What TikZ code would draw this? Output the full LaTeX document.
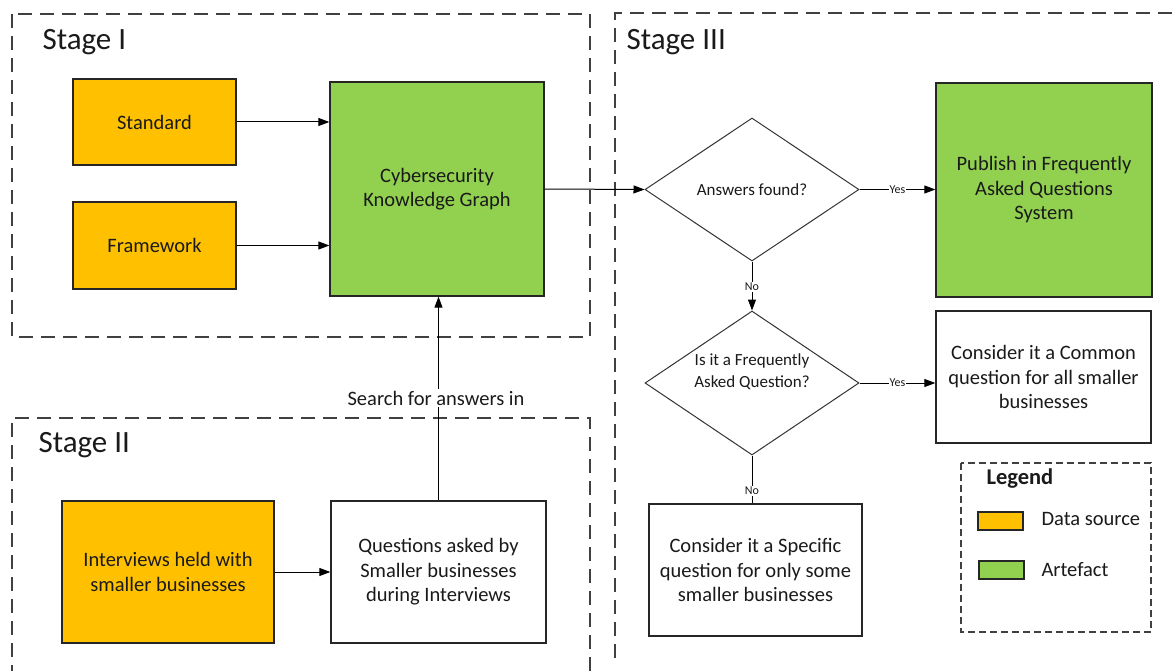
\documentclass[tikz,border=0pt]{standalone}
\usepackage{fontspec}
\setmainfont{Carlito}
\usetikzlibrary{arrows.meta,shapes.geometric}
\definecolor{dsrc}{HTML}{FFC000}
\definecolor{artf}{HTML}{92D050}
\definecolor{txt}{HTML}{1A1A1A}
\definecolor{dashc}{HTML}{404040}
\begin{document}
\begin{tikzpicture}[x=1pt,y=-1pt,
  box/.style={draw=black!85, line width=1.3pt, inner sep=0pt, align=center,
    font=\fontsize{20.5}{24.5}\selectfont, text=txt},
  dec/.style={draw=black!80, line width=1pt, shape=diamond, inner sep=0pt, align=center,
    font=\fontsize{17}{22}\selectfont, text=txt},
  stagebox/.style={draw=dashc, line width=1.2pt, dash pattern=on 14pt off 8pt},
  stagelbl/.style={anchor=west, font=\fontsize{31}{34}\selectfont, text=txt},
  conn/.style={draw=black, line width=1pt, -{Triangle[length=11pt,width=8pt]}},
  plain/.style={draw=black, line width=1pt},
  small/.style={fill=white, inner sep=1pt, font=\fontsize{12}{14}\selectfont, text=txt},
  legtxt/.style={anchor=west, font=\fontsize{20.5}{24}\selectfont, text=txt}
]
\useasboundingbox (0,0) rectangle (1172,671);
\fill[white] (0,0) rectangle (1172,671);

% stage frames
\draw[stagebox] (12,14) rectangle (590,337);
\draw[stagebox] (590,671) -- (590,418) -- (12,418) -- (12,671);
\draw[stagebox] (1172,13) -- (615,13) -- (615,662);

\node[stagelbl] (s1) at (39,42) {Stage I};
\node[stagelbl] (s2) at (35,445) {Stage II};
\node[stagelbl] (s3) at (623,42) {Stage III};

% Stage I
\node[box, fill=dsrc, minimum width=163pt, minimum height=86pt] (std) at (154.5,122) {Standard};
\node[box, fill=dsrc, minimum width=163pt, minimum height=87pt] (fw) at (154.5,245.5) {Framework};
\node[box, fill=artf, minimum width=214pt, minimum height=214pt] (ckg) at (437,189) {Cybersecurity\\Knowledge Graph};

\draw[conn] (std.east) -- (std.east -| ckg.west);
\draw[conn] (fw.east) -- (fw.east -| ckg.west);

% Stage II
\node[box, fill=dsrc, minimum width=212pt, minimum height=142pt] (intv) at (168,572) {Interviews held with\\smaller businesses};
\node[box, fill=white, minimum width=215pt, minimum height=142pt] (ques) at (438.5,572) {Questions asked by\\Smaller businesses\\during Interviews};
\draw[conn] (intv.east) -- (ques.west);
\draw[conn] (ques.north) -- (ques.north |- ckg.south);
\node[fill=white, inner sep=2pt, font=\fontsize{20.5}{24}\selectfont, text=txt] (search) at (436,398) {Search for answers in};

% Stage III
\node[dec, minimum width=214pt, minimum height=143pt] (d1) at (752,189.5) {Answers found?};
\node[dec, minimum width=214pt, minimum height=144pt] (d2) at (752,383) {};
\node[align=center, inner sep=0pt, font=\fontsize{17}{22}\selectfont, text=txt] (d2t) at (752,372) {Is it a Frequently\\Asked Question?};
\node[box, fill=artf, minimum width=216pt, minimum height=214pt] (pub) at (1044,190) {Publish in Frequently\\Asked Questions\\System};
\node[box, fill=white, minimum width=215pt, minimum height=132pt] (com) at (1043.5,377) {Consider it a Common\\question for all smaller\\businesses};
\node[box, fill=white, minimum width=213pt, minimum height=132pt] (spec) at (755.5,570) {Consider it a Specific\\question for only some\\smaller businesses};

\draw[conn] (ckg.east) -- (d1.west);
\draw[conn] (d1.east) -- (d1.east -| pub.west) node[small, midway] (y1) {Yes};
\draw[conn] (d1.south) -- (d2.north) node[small, pos=0.52] (n1) {No};
\draw[conn] (d2.east) -- (d2.east -| com.west) node[small, midway] (y2) {Yes};
\draw[plain] (d2.south) -- (d2.south |- spec.north) node[small, pos=0.74] (n2) {No};

% Legend
\draw[draw=dashc, line width=1.2pt, dash pattern=on 7pt off 4pt] (961,463) rectangle (1151,632);
\node[anchor=west, font=\bfseries\fontsize{22.5}{26}\selectfont, text=txt] (leg) at (983,479) {Legend};
\node[draw=black!85, line width=1.2pt, fill=dsrc, minimum width=45pt, minimum height=18pt, inner sep=0pt] (sw1) at (1000.5,521) {};
\node[legtxt] (l1) at (1038,519) {Data source};
\node[draw=black!85, line width=1.2pt, fill=artf, minimum width=45pt, minimum height=18pt, inner sep=0pt] (sw2) at (1001.5,570) {};
\node[legtxt] (l2) at (1038,570) {Artefact};
\end{tikzpicture}
\end{document}
